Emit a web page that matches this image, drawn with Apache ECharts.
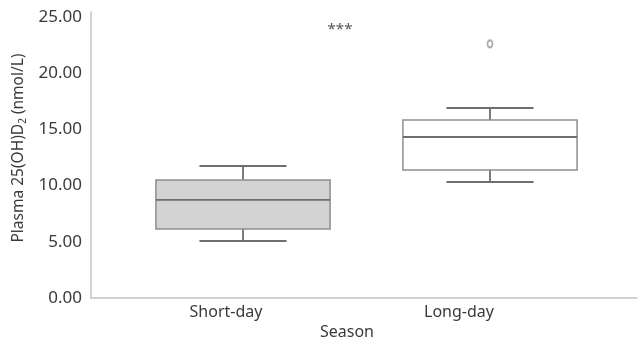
<!DOCTYPE html>
<html><head><meta charset="utf-8">
<script src="https://cdn.jsdelivr.net/npm/echarts@6/dist/echarts.min.js"></script>
<style>html,body{margin:0;padding:0;background:#fff}#c{width:638px;height:341px}</style>
</head><body><div id="c"></div>
<script>
var categories = ['Short-day', 'Long-day'];
var lowWhisker = [5.07, 10.32];
var q1 = [6.14, 11.39];
var median = [8.72, 14.32];
var q3 = [10.50, 15.84];
var highWhisker = [11.74, 16.90];
var outliers = [[1, 22.6]];
var yTicks = [0, 5, 10, 15, 20, 25];
var fills = ['#d3d3d3', '#ffffff'];

var boxData = categories.map(function (c, i) {
  return [i, lowWhisker[i], q1[i], median[i], q3[i], highWhisker[i]];
});

var chart = echarts.init(document.getElementById('c'), null, {renderer: 'canvas'});
var yMax = 25.44;
var font = '"Noto Sans", "Open Sans", sans-serif';
var hiddenY = {type: 'value', min: 0, max: yMax, show: false};

chart.setOption({
  animation: false,
  grid: [
    {left: 91, right: 1, top: 12, bottom: 43},
    {left: 119.5, width: 494, top: 12, bottom: 43},
    {left: 109.5, width: 466, top: 12, bottom: 43}
  ],
  xAxis: [
    {gridIndex: 0, type: 'value', min: 0, max: 1, axisLine: {show: true, lineStyle: {color: '#c4c4c4', width: 1.5}},
      axisTick: {show: false}, axisLabel: {show: false}, splitLine: {show: false}},
    {gridIndex: 1, type: 'category', data: categories, show: false},
    {gridIndex: 2, type: 'category', data: categories, axisLine: {show: false}, axisTick: {show: false},
      axisLabel: {fontSize: 16, color: '#3a3a3a', fontFamily: font, margin: 6}}
  ],
  yAxis: [
    {gridIndex: 0, type: 'value', min: 0, max: yMax, interval: 5,
      axisLine: {show: true, lineStyle: {color: '#c4c4c4', width: 1.5}}, axisTick: {show: false}, splitLine: {show: false},
      axisLabel: {fontSize: 17, color: '#3a3a3a', fontFamily: font, margin: 9,
        formatter: function (v) { return yTicks.indexOf(v) >= 0 ? v.toFixed(2) : ''; }}},
    Object.assign({gridIndex: 1}, hiddenY),
    Object.assign({gridIndex: 2}, hiddenY)
  ],
  graphic: [
    {type: 'text', x: 19, y: 148, rotation: Math.PI / 2,
      style: {text: '{a|Plasma 25(OH)D}{s|2}{a| (nmol/L)}', align: 'center', verticalAlign: 'middle',
        rich: {a: {fontSize: 15.5, fontFamily: font, fill: '#3a3a3a'},
               s: {fontSize: 10, fontFamily: font, fill: '#3a3a3a', padding: [8, 0, 0, 0]}}}},
    {type: 'text', x: 347, y: 332, style: {text: 'Season', align: 'center', verticalAlign: 'middle',
      fontSize: 16, fontFamily: font, fill: '#3a3a3a'}},
    {type: 'text', x: 340, y: 30, style: {text: '***', align: 'center', verticalAlign: 'middle',
      fontSize: 15, fontFamily: font, fill: '#555'}}
  ],
  series: [
    {type: 'custom', xAxisIndex: 1, yAxisIndex: 1, data: boxData,
      renderItem: function (params, api) {
        var idx = api.value(0);
        var band = api.size([1, 0])[0];
        var bw = band * 0.705;
        var cw = bw * 0.5;
        var pLo = api.coord([idx, api.value(1)]);
        var pQ1 = api.coord([idx, api.value(2)]);
        var pMed = api.coord([idx, api.value(3)]);
        var pQ3 = api.coord([idx, api.value(4)]);
        var pHi = api.coord([idx, api.value(5)]);
        var cx = pMed[0];
        var dark = {stroke: '#6e6e6e', lineWidth: 1.8};
        return {type: 'group', children: [
          {type: 'line', shape: {x1: cx, y1: pHi[1], x2: cx, y2: pQ3[1]}, style: dark},
          {type: 'line', shape: {x1: cx, y1: pLo[1], x2: cx, y2: pQ1[1]}, style: dark},
          {type: 'line', shape: {x1: cx - cw / 2, y1: pHi[1], x2: cx + cw / 2, y2: pHi[1]}, style: dark},
          {type: 'line', shape: {x1: cx - cw / 2, y1: pLo[1], x2: cx + cw / 2, y2: pLo[1]}, style: dark},
          {type: 'rect', shape: {x: cx - bw / 2, y: pQ3[1], width: bw, height: pQ1[1] - pQ3[1]},
            style: {fill: fills[idx], stroke: '#8e8e8e', lineWidth: 1.5}},
          {type: 'line', shape: {x1: cx - bw / 2, y1: pMed[1], x2: cx + bw / 2, y2: pMed[1]}, style: dark}
        ]};
      }},
    {type: 'scatter', xAxisIndex: 1, yAxisIndex: 1, data: outliers, symbol: 'emptyCircle',
      symbolSize: [5, 7], itemStyle: {color: '#999', borderColor: '#8a8a8a', borderWidth: 1.2}}
  ]
});
</script></body></html>
